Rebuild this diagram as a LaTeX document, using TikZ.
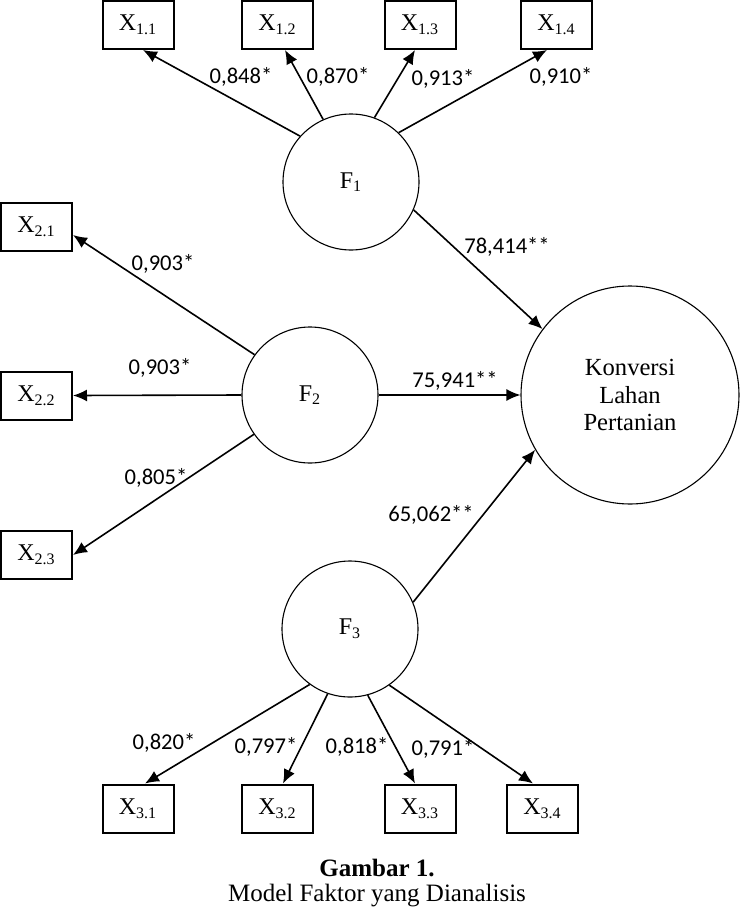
\documentclass[tikz,border=0pt]{standalone}
\usepackage{fontspec}
\setmainfont{Liberation Serif}
\newfontfamily\lab{Carlito}
\usetikzlibrary{arrows.meta,calc}
\begin{document}
\begin{tikzpicture}[x=0.5pt,y=-0.5pt,
  obs/.style={draw, line width=1pt, minimum width=35.5pt, minimum height=24pt, inner sep=0pt, font=\fontsize{12}{13}\selectfont},
  lat/.style={circle, draw, line width=0.55pt, minimum size=68pt, inner sep=0pt, font=\fontsize{12}{13}\selectfont},
  arr/.style={-{Latex[length=7pt,width=6pt]}, line width=0.8pt},
  lbl/.style={font=\lab\fontsize{11.3}{13}\selectfont, inner sep=0pt}]
\useasboundingbox (0,0) rectangle (739,910);
% observed boxes
\node[obs] (b11) at (138,25) {X\textsubscript{1.1}};
\node[obs] (b12) at (277.5,25) {X\textsubscript{1.2}};
\node[obs] (b13) at (420,25) {X\textsubscript{1.3}};
\node[obs] (b14) at (556.5,25) {X\textsubscript{1.4}};
\node[obs] (b21) at (36.5,226.5) {X\textsubscript{2.1}};
\node[obs] (b22) at (36.5,395.5) {X\textsubscript{2.2}};
\node[obs] (b23) at (36.5,555) {X\textsubscript{2.3}};
\node[obs] (b31) at (138,808.5) {X\textsubscript{3.1}};
\node[obs] (b32) at (277.5,808.5) {X\textsubscript{3.2}};
\node[obs] (b33) at (420,808.5) {X\textsubscript{3.3}};
\node[obs] (b34) at (542.5,808.5) {X\textsubscript{3.4}};
% latent
\node[lat] (F1) at (351,182) {F\textsubscript{1}};
\node[lat] (F2) at (310,395) {F\textsubscript{2}};
\node[lat] (F3) at (350,629) {F\textsubscript{3}};
\node[lat, minimum size=109pt, align=center, font=\fontsize{12.3}{13.7}\selectfont] (K) at (630,395) {Konversi\\Lahan\\Pertanian};
% arrows
\draw[arr] (F1.138) -- ($(b11.south)+(5,0)$);
\draw[arr] (F1.114) -- ($(b12.south)+(7.5,0)$);
\draw[arr] (F1.70) -- ($(b13.south)+(-5,0)$);
\draw[arr] (F1.46) -- ($(b14.south)+(-9.5,0)$);
\draw[arr] (F1.-24) -- (K.143);
\draw[arr] (F2.144) -- ($(b21.east)+(0,8.5)$);
\draw[arr] (F2.west) -- (b22.east);
\draw[arr] (F2.215) -- (b23.east);
\draw[arr] (F2.east) -- (K.west);
\draw[arr] (F3.23) -- (K.210);
\draw[arr] (F3.234) -- ($(b31.north)+(7,0)$);
\draw[arr] (F3.251) -- ($(b32.north)+(5.5,0)$);
\draw[arr] (F3.285) -- ($(b33.north)+(-5,0)$);
\draw[arr] (F3.305) -- ($(b34.north)+(-9.5,0)$);
% labels
\node[lbl] (l11) at (241,77) {0,848*};
\node[lbl] (l12) at (338,77) {0,870*};
\node[lbl] (l13) at (443,79) {0,913*};
\node[lbl] (l14) at (561,77) {0,910*};
\node[lbl] (l21) at (163,264) {0,903*};
\node[lbl] (l22) at (160,368) {0,903*};
\node[lbl] (l23) at (156,478) {0,805*};
\node[lbl] (lk1) at (507,247) {78,414**};
\node[lbl] (lk2) at (455,381) {75,941**};
\node[lbl] (lk3) at (431,515) {65,062**};
\node[lbl] (l31) at (164,743) {0,820*};
\node[lbl] (l32) at (266,747) {0,797*};
\node[lbl] (l33) at (357,747) {0,818*};
\node[lbl] (l34) at (443,749) {0,791*};
% caption
\node[font=\fontsize{12.5}{14}\selectfont\bfseries, inner sep=0pt] (cap1) at (377,868) {Gambar 1.};
\node[font=\fontsize{12.5}{14}\selectfont, inner sep=0pt] (cap2) at (377,896) {Model Faktor yang Dianalisis};
\end{tikzpicture}
\end{document}
